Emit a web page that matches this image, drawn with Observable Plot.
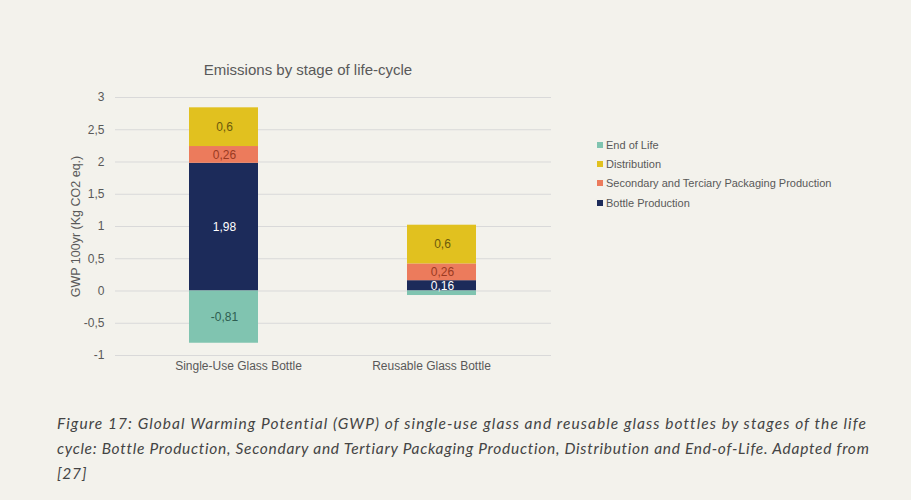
<!DOCTYPE html>
<html>
<head>
<meta charset="utf-8">
<script src="https://cdn.jsdelivr.net/npm/d3@7"></script>
<script src="https://cdn.jsdelivr.net/npm/@observablehq/plot@0.6"></script>
<style>
  html, body { margin: 0; padding: 0; background: #f3f2ec; }
  #wrap { position: relative; width: 911px; height: 500px; overflow: hidden; background: #f3f2ec; }
  #title { position: absolute; left: 115px; width: 386px; top: 61px; text-align: center;
    font-family: "Liberation Sans", Arial, sans-serif; font-size: 15px; color: #595959; }
  #chart { position: absolute; left: 0; top: 85px; }
  #legend { position: absolute; left: 595px; top: 135px; font-family: "Liberation Sans", Arial, sans-serif;
    font-size: 11px; color: #595959; }
  #legend .row { height: 19.3px; display: flex; align-items: center; white-space: nowrap; }
  #legend .sw { width: 6px; height: 6px; margin-right: 3px; margin-left: 2px; }
  #caption { position: absolute; left: 57px; top: 411px; font-family: Lato, "Open Sans", sans-serif;
    font-style: italic; font-size: 15.5px; line-height: 25px; color: #444444; white-space: nowrap; }
</style>
</head>
<body>
<div id="wrap">
  <div id="title"></div>
  <div id="chart"></div>
  <div id="legend"></div>
  <div id="caption"></div>
</div>
<script>
const titleText = "Emissions by stage of life-cycle";
const yLabel = "GWP 100yr (Kg CO2 eq.)";
const categories = ["Single-Use Glass Bottle", "Reusable Glass Bottle"];
const stages = ["Bottle Production", "Secondary and Terciary Packaging Production", "Distribution", "End of Life"];
const legendOrder = ["End of Life", "Distribution", "Secondary and Terciary Packaging Production", "Bottle Production"];
const stageColors = ["#1c2b5a", "#ec7b5c", "#e1c11f", "#80c4b0"];
const labelColors = ["#ffffff", "#9a3a22", "#6b5a0c", "#2e5e51"];
const singleUse = [1.98, 0.26, 0.6, -0.81];
const reusable = [0.16, 0.26, 0.6, -0.07];
const showLabel = [[true, true, true, true], [true, true, true, false]];
const yTicks = [-1, -0.5, 0, 0.5, 1, 1.5, 2, 2.5, 3];
const captionLines = [
  "Figure 17: Global Warming Potential (GWP) of single-use glass and reusable glass bottles by stages of the life",
  "cycle: Bottle Production, Secondary and Tertiary Packaging Production, Distribution and End-of-Life. Adapted from",
  "[27]"
];
const captionWidths = [809, 811, null];

const series = [singleUse, reusable];
const data = [];
categories.forEach((c, ci) => stages.forEach((s, si) => {
  data.push({category: c, stage: s, value: series[ci][si], si, show: showLabel[ci][si]});
}));
const fmt = v => String(v).replace(".", ",");

const stackOpts = {x: "category", y: "value", z: "stage", order: stages};

const textMarks = stages.map((s, si) => Plot.text(data, Plot.stackY({
  ...stackOpts,
  text: d => (d.stage === s && d.show) ? fmt(d.value) : "",
  fill: labelColors[si],
  fontSize: 12,
  fontFamily: "Liberation Sans, Arial, sans-serif"
})));

const plot = Plot.plot({
  width: 560,
  height: 305,
  marginTop: 12,
  marginBottom: 35,
  marginLeft: 115,
  marginRight: 9,
  style: {background: "transparent", fontFamily: "Liberation Sans, Arial, sans-serif"},
  x: {domain: categories, padding: 0},
  y: {domain: [-1, 3]},
  color: {domain: stages, range: stageColors},
  marks: [
    Plot.gridY(yTicks, {stroke: "#d9d9d9", strokeOpacity: 1, strokeWidth: 1}),
    Plot.axisY(yTicks, {tickSize: 0, tickPadding: 11, tickFormat: fmt, fontSize: 12, fill: "#595959",
      label: yLabel, labelAnchor: "center", labelArrow: "none", labelOffset: 44}),
    Plot.barY(data, Plot.stackY({...stackOpts, fill: "stage", insetLeft: 74, insetRight: 75})),
    ...textMarks,
    Plot.axisX([categories[0]], {tickSize: 0, tickPadding: 6, fontSize: 12, fill: "#595959", dx: 14, label: null}),
    Plot.axisX([categories[1]], {tickSize: 0, tickPadding: 6, fontSize: 12, fill: "#595959", dx: -11, label: null})
  ]
});
document.getElementById("chart").appendChild(plot);
plot.querySelectorAll("g[aria-label='y-axis label'] text, g[aria-label='y-axis label']").forEach(el => el.setAttribute("font-size", "12.5"));

document.getElementById("title").textContent = titleText;
const leg = document.getElementById("legend");
legendOrder.forEach(s => {
  const row = document.createElement("div");
  row.className = "row";
  const sw = document.createElement("span");
  sw.className = "sw";
  sw.style.background = stageColors[stages.indexOf(s)];
  const t = document.createElement("span");
  t.textContent = s;
  row.appendChild(sw); row.appendChild(t);
  leg.appendChild(row);
});
const cap = document.getElementById("caption");
captionLines.forEach((l, i) => {
  const d = document.createElement("div");
  const span = document.createElement("span");
  span.textContent = l;
  d.appendChild(span);
  cap.appendChild(d);
  const target = captionWidths[i];
  if (target) {
    const w = span.getBoundingClientRect().width;
    span.style.letterSpacing = ((target - w) / l.length) + "px";
  } else {
    span.style.letterSpacing = "0.8px";
  }
});
</script>
</body>
</html>
